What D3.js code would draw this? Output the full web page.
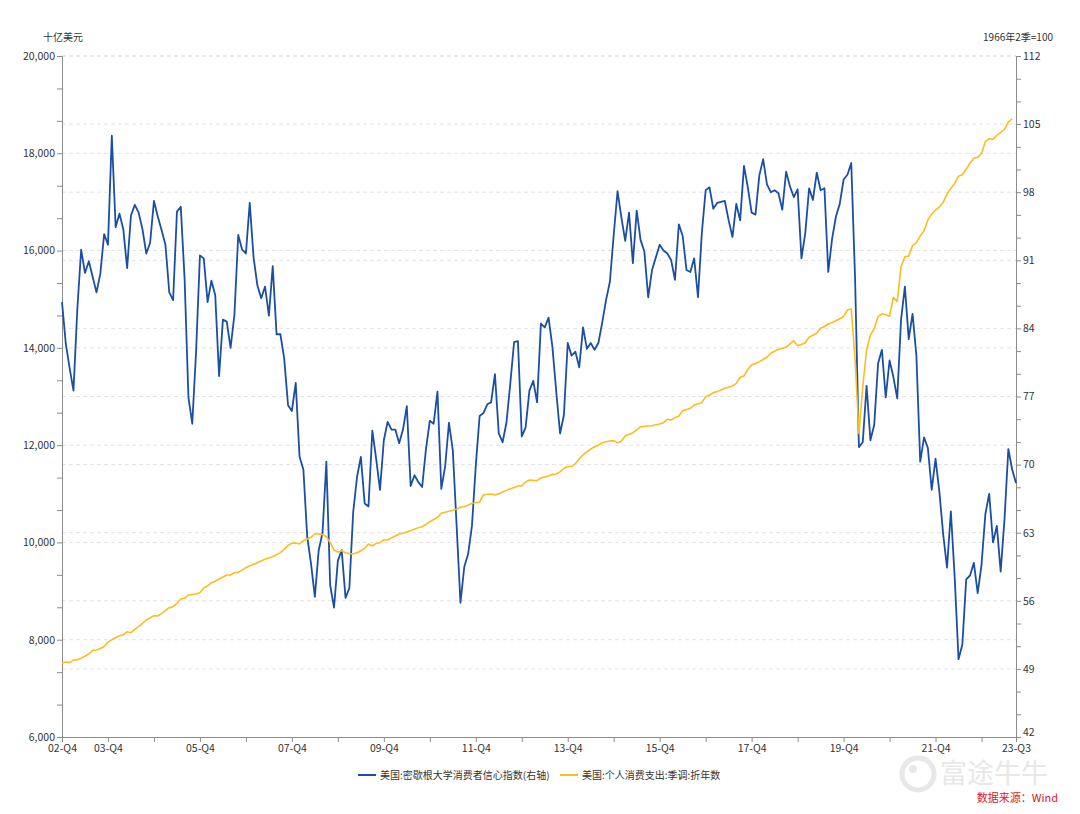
<!DOCTYPE html>
<html>
<head>
<meta charset="utf-8">
<script src="https://cdn.jsdelivr.net/npm/d3@7"></script>
<style>
  body { margin: 0; background: #fff; }
  text { font-family: "Noto Sans CJK SC", "Noto Sans", sans-serif; }
</style>
</head>
<body>
<div id="chart"></div>
<script>
// Monthly data, Dec 2002 -> Sep 2023
// 美国:密歇根大学消费者信心指数 (right axis)
const sentiment = [
  86.7,
  82.4, 79.9, 77.6, 86.0, 92.1, 89.7, 90.9, 89.3, 87.7, 89.6, 93.7, 92.6,
  103.8, 94.4, 95.8, 94.2, 90.2, 95.6, 96.7, 95.9, 94.2, 91.7, 92.8, 97.1,
  95.5, 94.1, 92.6, 87.7, 86.9, 96.0, 96.5, 89.1, 76.9, 74.2, 81.6, 91.5,
  91.2, 86.7, 88.9, 87.4, 79.1, 84.9, 84.7, 82.0, 85.4, 93.6, 92.1, 91.7,
  96.9, 91.3, 88.4, 87.1, 88.3, 85.3, 90.4, 83.4, 83.4, 80.9, 76.1, 75.5,
  78.4, 70.8, 69.5, 62.6, 59.8, 56.4, 61.2, 63.0, 70.3, 57.6, 55.3, 60.1,
  61.2, 56.3, 57.3, 65.1, 68.7, 70.8, 66.0, 65.7, 73.5, 70.6, 67.4, 72.5,
  74.4, 73.6, 73.6, 72.2, 73.6, 76.0, 67.8, 68.9, 68.2, 67.7, 71.6, 74.5,
  74.2, 77.5, 67.5, 69.8, 74.3, 71.5, 63.7, 55.8, 59.5, 60.8, 63.7, 69.9,
  75.0, 75.3, 76.2, 76.4, 79.3, 73.2, 72.3, 74.3, 78.3, 82.6, 82.7, 72.9,
  73.8, 77.6, 78.6, 76.4, 84.5, 84.1, 85.1, 82.1, 77.5, 73.2, 75.1, 82.5,
  81.2, 81.6, 80.0, 84.1, 81.9, 82.5, 81.8, 82.5, 84.6, 86.9, 88.8, 93.6,
  98.1, 95.4, 93.0, 95.9, 90.7, 96.1, 93.1, 91.9, 87.2, 90.0, 91.3, 92.6,
  92.0, 91.7, 91.0, 89.0, 94.7, 93.5, 90.0, 89.8, 91.2, 87.2, 93.8, 98.2,
  98.5, 96.3, 96.9, 97.0, 97.1, 95.1, 93.4, 96.8, 95.1, 100.7, 98.5, 95.9,
  95.7, 99.7, 101.4, 98.8, 98.0, 98.2, 97.9, 96.2, 100.1, 98.6, 97.5, 98.3,
  91.2, 93.8, 98.4, 97.2, 100.0, 98.2, 98.4, 89.8, 93.2, 95.5, 96.8, 99.3,
  99.8, 101.0, 89.1, 71.8, 72.3, 78.1, 72.5, 74.1, 80.4, 81.8, 76.9, 80.7,
  79.0, 76.8, 84.9, 88.3, 82.9, 85.5, 81.2, 70.3, 72.8, 71.7, 67.4, 70.6,
  67.2, 62.8, 59.4, 65.2, 58.4, 50.0, 51.5, 58.2, 58.6, 59.9, 56.8, 59.7,
  64.9, 67.0, 62.0, 63.7, 59.0, 64.4, 71.6, 69.5, 68.1
];

// 美国:个人消费支出:季调:折年数 (十亿美元), Dec 2002 -> Aug 2023
const pce = [
  7520,
  7540, 7530, 7580, 7590, 7620, 7660, 7710, 7780, 7790, 7820, 7860, 7950,
  8000, 8040, 8080, 8100, 8165, 8144, 8214, 8268, 8337, 8405, 8450, 8494,
  8488, 8540, 8600, 8659, 8680, 8748, 8837, 8851, 8919, 8930, 8940, 8967,
  9063, 9104, 9173, 9200, 9248, 9290, 9330, 9330, 9378, 9385, 9430, 9481,
  9522, 9550, 9584, 9620, 9653, 9680, 9707, 9750, 9790, 9858, 9940, 9982,
  9990, 9968, 10036, 10070, 10105, 10173, 10173, 10160, 10118, 9995, 9844, 9800,
  9830, 9789, 9770, 9762, 9789, 9830, 9879, 9968, 9927, 9982, 9995, 10050,
  10050, 10090, 10132, 10173, 10190, 10214, 10240, 10270, 10300, 10323, 10370, 10426,
  10470, 10516, 10599, 10620, 10640, 10660, 10681, 10722, 10740, 10763, 10804, 10817,
  10830, 10975, 10990, 10996, 10975, 11000, 11037, 11070, 11105, 11130, 11160, 11160,
  11242, 11283, 11275, 11270, 11324, 11345, 11366, 11400, 11407, 11450, 11520, 11560,
  11560, 11620, 11720, 11800, 11860, 11920, 11968, 12000, 12050, 12070, 12085, 12092,
  12050, 12080, 12188, 12220, 12256, 12311, 12379, 12385, 12393, 12400, 12420, 12435,
  12462, 12531, 12517, 12560, 12599, 12708, 12730, 12757, 12825, 12850, 12873, 12996,
  13030, 13078, 13100, 13134, 13168, 13190, 13216, 13271, 13395, 13422, 13559, 13648,
  13680, 13716, 13760, 13806, 13888, 13930, 13970, 13990, 14011, 14080, 14147, 14045,
  14070, 14106, 14217, 14260, 14299, 14402, 14440, 14490, 14520, 14559, 14600, 14641,
  14778, 14799, 13760, 12240, 13200, 13950, 14260, 14400, 14640, 14700, 14680, 14650,
  15040, 14950, 15670, 15870, 15890, 16100, 16160, 16300, 16410, 16630, 16750, 16830,
  16900, 16990, 17160, 17280, 17380, 17530, 17560, 17670, 17800, 17900, 17920, 17990,
  18240, 18300, 18290, 18370, 18430, 18490, 18640, 18710
];

// x ticks (month index from Dec 2002) and their labels
const xTickIdx = [0, 12, 24, 36, 48, 60, 72, 84, 96, 108, 120, 132, 144, 156, 168, 180, 192, 204, 216, 228, 240, 249];
const xTickLabels = ["02-Q4", "03-Q4", "", "05-Q4", "", "07-Q4", "", "09-Q4", "", "11-Q4", "", "13-Q4", "",
  "15-Q4", "", "17-Q4", "", "19-Q4", "", "21-Q4", "", "23-Q3"];

const seriesNames = ["美国:密歇根大学消费者信心指数(右轴)", "美国:个人消费支出:季调:折年数"];
const seriesColors = ["#1b4fa3", "#fcbd1f"];

const width = 1080;
const height = 814;
const margin = { top: 56, right: 64, bottom: 77, left: 62 };

const svg = d3.select("#chart").append("svg")
    .attr("width", width)
    .attr("height", height)

const x = d3.scaleLinear()
    .domain([0, 249])
    .range([margin.left, width - margin.right])

const yLeft = d3.scaleLinear()
    .domain([6000, 20000])
    .range([height - margin.bottom, margin.top])

const yRight = d3.scaleLinear()
    .domain([42, 112])
    .range([height - margin.bottom, margin.top])

// grid lines for both axes' labelled ticks
const gridVals = d3.range(1, 8).map(k => yLeft(6000 + k * 2000))
    .concat(d3.range(1, 11).map(k => yRight(42 + k * 7)))

svg.append("g")
    .selectAll("line")
    .data(gridVals)
    .join("line")
    .attr("x1", margin.left)
    .attr("x2", width - margin.right)
    .attr("y1", d => d)
    .attr("y2", d => d)
    .attr("stroke", "#e3e3e3")
    .attr("stroke-dasharray", "4,3")

// axes
function styleAxis(g) {
    g.select(".domain").attr("stroke", "#8c8c8c")
    g.selectAll(".tick line").attr("stroke", "#8c8c8c")
    g.selectAll(".tick text").attr("fill", "#333").style("font-size", "10.5px")
}

const leftTicks = d3.range(0, 22).map(k => 6000 + k * 2000 / 3)
svg.append("g")
    .attr("transform", `translate(${margin.left}, 0)`)
    .call(d3.axisLeft(yLeft).tickValues(leftTicks).tickSizeOuter(0).tickSize(5).tickPadding(2)
        .tickFormat((d, i) => i % 3 === 0 ? d3.format(",")(Math.round(d)) : ""))
    .call(styleAxis)

const rightTicks = d3.range(0, 31).map(k => 42 + k * 7 / 3)
const rightAxis = svg.append("g")
    .attr("transform", `translate(${width - margin.right}, 0)`)
    .call(d3.axisRight(yRight).tickValues(rightTicks).tickSizeOuter(0).tickSize(5).tickPadding(2)
        .tickFormat((d, i) => i % 3 === 0 ? Math.round(d) : ""))
    .call(styleAxis)

// lowest label sits just above the bottom corner, as in the source
rightAxis.selectAll(".tick text").filter((d, i) => i === 0).attr("dy", "-0.1em")

svg.append("g")
    .attr("transform", `translate(0, ${height - margin.bottom})`)
    .call(d3.axisBottom(x).tickValues(xTickIdx).tickSizeOuter(0).tickSize(5).tickPadding(3)
        .tickFormat((d, i) => xTickLabels[i]))
    .call(styleAxis)

// unit labels
svg.append("text")
    .attr("x", 63).attr("y", 41)
    .attr("text-anchor", "middle")
    .attr("fill", "#333").style("font-size", "10px")
    .text("十亿美元")

svg.append("text")
    .attr("x", 1053).attr("y", 41)
    .attr("text-anchor", "end")
    .attr("fill", "#333").style("font-size", "10px")
    .text("1966年2季=100")

// lines
const blueLine = d3.line()
    .x((d, i) => x(i))
    .y(d => yRight(d))

const yellowLine = d3.line()
    .x((d, i) => x(i))
    .y(d => yLeft(d))

svg.append("path")
    .datum(sentiment)
    .attr("fill", "none")
    .attr("stroke", seriesColors[0])
    .attr("stroke-width", 1.8)
    .attr("stroke-linejoin", "round")
    .attr("d", blueLine)

svg.append("path")
    .datum(pce)
    .attr("fill", "none")
    .attr("stroke", seriesColors[1])
    .attr("stroke-width", 1.6)
    .attr("stroke-linejoin", "round")
    .attr("d", yellowLine)

// legend
const legendX = [358, 560];
const legend = svg.append("g")
    .selectAll("g")
    .data(seriesNames)
    .join("g")
    .attr("transform", (d, i) => `translate(${legendX[i]}, 775)`)

legend.append("line")
    .attr("x1", 0).attr("x2", 18)
    .attr("stroke", (d, i) => seriesColors[i])
    .attr("stroke-width", 2)

legend.append("text")
    .attr("x", 22).attr("y", 3.5)
    .attr("fill", "#333").style("font-size", "10px")
    .text(d => d)

// watermark
const wm = svg.append("g").attr("opacity", 0.9)
wm.append("circle")
    .attr("cx", 918).attr("cy", 774).attr("r", 16)
    .attr("fill", "none").attr("stroke", "#e6e6e6").attr("stroke-width", 5)
wm.append("circle")
    .attr("cx", 913).attr("cy", 769).attr("r", 4)
    .attr("fill", "#e6e6e6")
wm.append("text")
    .attr("x", 940).attr("y", 783)
    .attr("fill", "#e6e6e6")
    .style("font-size", "27px")
    .text("富途牛牛")

svg.append("text")
    .attr("x", 1058).attr("y", 802)
    .attr("text-anchor", "end")
    .attr("fill", "#e02020")
    .style("font-size", "11px")
    .text("数据来源：Wind")
</script>
</body>
</html>
